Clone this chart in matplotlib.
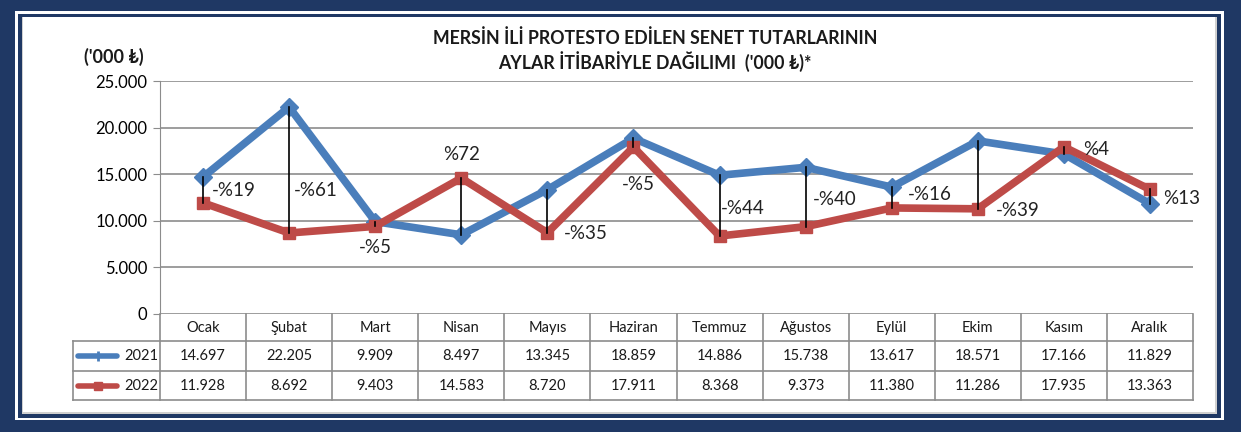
import matplotlib
matplotlib.use("Agg")
import matplotlib.pyplot as plt
from matplotlib.patches import Rectangle
import numpy as np

plt.rcParams['font.family'] = ['Lato', 'DejaVu Sans']

months = ["Ocak", "Şubat", "Mart", "Nisan", "Mayıs", "Haziran",
          "Temmuz", "Ağustos", "Eylül", "Ekim", "Kasım", "Aralık"]
y2021 = [14697, 22205, 9909, 8497, 13345, 18859, 14886, 15738, 13617, 18571, 17166, 11829]
y2022 = [11928, 8692, 9403, 14583, 8720, 17911, 8368, 9373, 11380, 11286, 17935, 13363]
series_names = ["2021", "2022"]

# label placement: (x offset in months, y value, horizontal alignment)
label_pos = [(0.1, 13300, 'left'), (0.05, 13300, 'left'), (0.0, 7100, 'center'),
             (0.0, 17100, 'center'), (0.19, 8600, 'left'), (0.06, 13850, 'center'),
             (0.01, 11300, 'left'), (0.08, 12250, 'left'), (0.19, 12800, 'left'),
             (0.21, 11150, 'left'), (0.22, 17700, 'left'), (0.15, 12350, 'left')]

W, H = 1241, 432
navy = "#1f3864"
blue = "#4a7ebb"
red = "#be4b48"

fig = plt.figure(figsize=(W / 100, H / 100), dpi=100)
fig.patch.set_facecolor(navy)

def frect(x0, y0, x1, y1, color, **kw):
    # pixel coords, y from top
    fig.patches.append(Rectangle((x0 / W, 1 - y1 / H), (x1 - x0) / W, (y1 - y0) / H,
                                 transform=fig.transFigure, facecolor=color,
                                 edgecolor='none', zorder=-10, **kw))

frect(15, 11, 1224, 420, "white")
frect(18, 13.5, 1221, 417.5, navy)
frect(22, 16.5, 1217, 414, "#d0d0d0")
frect(23, 17, 1215, 412, "white")

# main plot
x = np.arange(len(months))
ax = fig.add_axes([160 / W, 1 - 314 / H, (1193 - 160) / W, (314 - 81) / H])
ax.set_facecolor('none')
ax.set_xlim(-0.5, 11.5)
ax.set_ylim(0, 25000)
ax.set_yticks(np.arange(0, 25001, 5000))
ax.set_yticklabels([f"{v:,}".replace(",", ".") for v in range(0, 25001, 5000)], fontsize=12)
ax.set_xticks([])
ax.grid(axis='y', color='#8c8c8c', lw=1.2)
ax.set_axisbelow(True)
for s in ['top', 'right', 'bottom']:
    ax.spines[s].set_visible(False)
ax.spines['left'].set_color('#8c8c8c')
ax.tick_params(axis='y', color='#8c8c8c', length=5, pad=4)

ax.plot(x, y2021, color=blue, lw=5.5, marker='D', ms=9, zorder=3)
ax.plot(x, y2022, color=red, lw=5.5, marker='s', ms=8, zorder=3)

for i in range(len(months)):
    ax.plot([x[i], x[i]], [y2021[i], y2022[i]], color='black', lw=1.2, zorder=4)
    pct = round((y2022[i] - y2021[i]) / y2021[i] * 100)
    txt = ("-%" + str(abs(pct))) if pct < 0 else ("%" + str(pct))
    dx, yy, ha = label_pos[i]
    ax.text(x[i] + dx, yy, txt, ha=ha, va='center', fontsize=13.5, color='#222222', zorder=5)

# title and unit
fig.text(655 / W, 1 - 38 / H, "MERSİN İLİ PROTESTO EDİLEN SENET TUTARLARININ",
         ha='center', va='center', fontsize=12.8, fontweight='bold', color='#1a1a1a')
fig.text(655 / W, 1 - 62 / H, "AYLAR İTİBARİYLE DAĞILIMI  ('000 ₺)*",
         ha='center', va='center', fontsize=12.8, fontweight='bold', color='#1a1a1a')
fig.text(84 / W, 1 - 57 / H, "('000 ₺)", ha='left', va='center',
         fontsize=13, fontweight='bold', color='#1a1a1a')

# data table
tab = fig.add_axes([73 / W, 1 - 400 / H, (1193 - 73) / W, (400 - 314) / H])
tab.set_xlim(-1.512, 11.5)
tab.set_ylim(400, 314)
tab.axis('off')
lc = '#8c8c8c'
for i in range(len(months) + 1):
    tab.plot([i - 0.5, i - 0.5], [314, 400], color=lc, lw=1.2, clip_on=False)
tab.plot([-1.512, -1.512], [341, 400], color=lc, lw=1.2, clip_on=False)
for yy in [341, 371, 400]:
    tab.plot([-1.512, 11.5], [yy, yy], color=lc, lw=1.2, clip_on=False)
for i, m in enumerate(months):
    tab.text(i, 328, m, ha='center', va='center', fontsize=10.5, color='#1a1a1a')
    tab.text(i, 356, f"{y2021[i]:,}".replace(",", "."), ha='center', va='center',
             fontsize=10.5, color='#1a1a1a')
    tab.text(i, 386, f"{y2022[i]:,}".replace(",", "."), ha='center', va='center',
             fontsize=10.5, color='#1a1a1a')
tab.plot([-1.45, -1.0], [356, 356], color=blue, lw=4, solid_capstyle='round')
tab.plot([-1.225], [356], color=blue, marker='|', ms=7, mew=2)
tab.plot([-1.45, -1.0], [386, 386], color=red, lw=4, solid_capstyle='round')
tab.plot([-1.225], [386], color=red, marker='s', ms=6)
tab.text(-0.52, 356, series_names[0], ha='right', va='center', fontsize=10.5, color='#1a1a1a')
tab.text(-0.52, 386, series_names[1], ha='right', va='center', fontsize=10.5, color='#1a1a1a')

fig.savefig("out.png", dpi=100, facecolor=fig.get_facecolor())
